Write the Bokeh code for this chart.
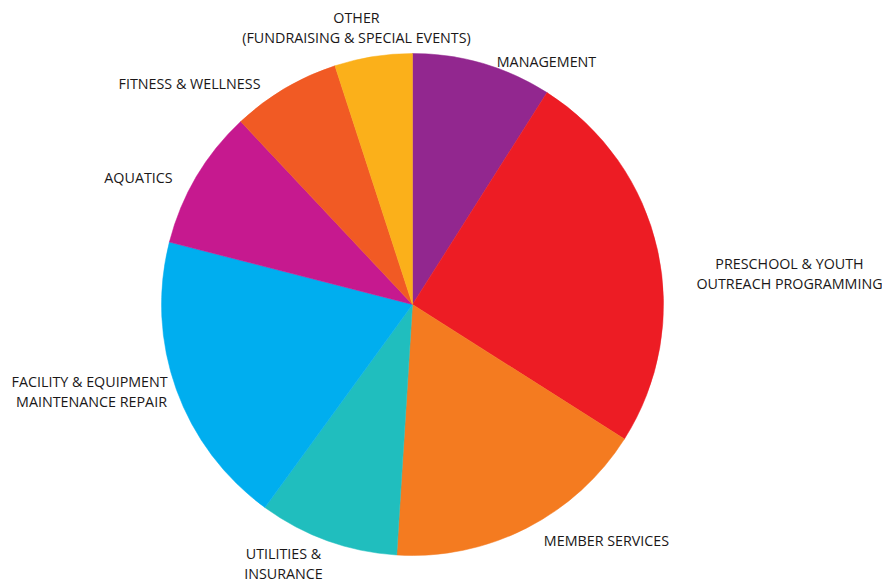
import math
from bokeh.plotting import figure
from bokeh.models import ColumnDataSource, Range1d
from bokeh.core.properties import value
from bokeh.embed import file_html
from bokeh.resources import INLINE

categories = ["MANAGEMENT", "PRESCHOOL & YOUTH\nOUTREACH PROGRAMMING", "MEMBER SERVICES",
              "UTILITIES &\nINSURANCE", "FACILITY  & EQUIPMENT\nMAINTENANCE REPAIR", "AQUATICS",
              "FITNESS & WELLNESS", "OTHER\n(FUNDRAISING & SPECIAL EVENTS)"]
shares = [9, 25, 17, 9, 19, 9, 7, 5]
colors = ["#92278F", "#ED1C24", "#F47B20", "#20BEBE", "#00AEEF", "#C6198F", "#F15A24", "#FBB01A"]

W, H = 882, 584
cx, cy, r = 412, H - 304, 251

total = sum(shares)
starts, ends = [], []
acc = 0.0
for v in shares:
    a0 = math.pi / 2 - 2 * math.pi * acc / total
    acc += v
    a1 = math.pi / 2 - 2 * math.pi * acc / total
    starts.append(a0)
    ends.append(a1)

src = ColumnDataSource(dict(start=starts, end=ends, color=colors))

p = figure(width=W, height=H, x_range=Range1d(0, W), y_range=Range1d(0, H),
           output_backend="svg", toolbar_location=None, min_border=0,
           outline_line_color=None, background_fill_color="white")
p.axis.visible = False
p.grid.visible = False

p.wedge(x=cx, y=cy, radius=r, start_angle="start", end_angle="end", direction="clock",
        fill_color="color", line_color="color", line_width=0.5, source=src)

# label anchor positions (pixel x, pixel y of block centre)
label_x = [546, 789, 606, 283, 91, 138, 189, 356]
label_y = [61, 273, 540, 563, 391, 177, 83, 27]
lsrc = ColumnDataSource(dict(x=label_x, y=[H - y for y in label_y], t=categories))
p.text(x="x", y="y", text="t", source=lsrc, text_align="center", text_baseline="middle",
       text_font=value("Open Sans"), text_font_size="14.3px", text_color="#1A1718",
       text_line_height=1.1)

open("out.html", "w").write(file_html(p, INLINE))
